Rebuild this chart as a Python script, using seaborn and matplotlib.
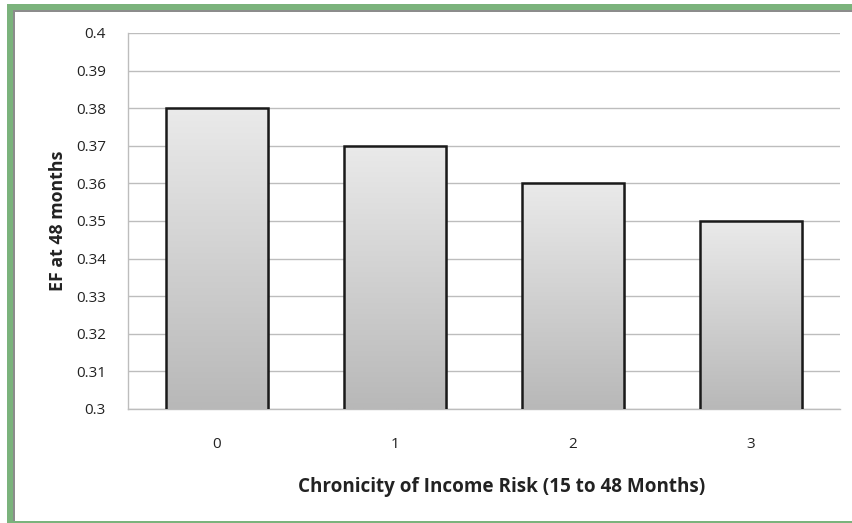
import numpy as np
import pandas as pd
import matplotlib
matplotlib.use("Agg")
import matplotlib.pyplot as plt
import seaborn as sns
from matplotlib.patches import Rectangle
from matplotlib.colors import LinearSegmentedColormap

categories = ["0", "1", "2", "3"]
ef_values = [0.38, 0.37, 0.36, 0.35]
y_ticks = [0.3, 0.31, 0.32, 0.33, 0.34, 0.35, 0.36, 0.37, 0.38, 0.39, 0.4]
x_label = "Chronicity of Income Risk (15 to 48 Months)"
y_label = "EF at 48 months"

sns.set_theme(style="white")
plt.rcParams["font.family"] = ["Open Sans", "DejaVu Sans"]

df = pd.DataFrame({"risk": categories, "ef": ef_values})

W, H = 852, 523
fig = plt.figure(figsize=(W / 100, H / 100), dpi=100)
ax = fig.add_axes([128 / W, 1 - 409 / H, (840 - 128) / W, (409 - 33) / H])

sns.barplot(data=df, x="risk", y="ef", ax=ax, color="#d0d0d0", width=0.57,
            edgecolor="#1a1a1a", linewidth=1.8, zorder=3)

ax.set_ylim(0.3, 0.4)
ax.set_xlim(-0.5, 3.5)
ax.set_yticks(y_ticks)
ax.set_yticklabels([f"{t:g}" for t in y_ticks], fontsize=11, color="#222222")
ax.tick_params(axis="x", labelsize=11, colors="#222222", pad=20, length=0)
ax.tick_params(axis="y", pad=16, length=0)

ax.grid(axis="y", color="#bdbdbd", linewidth=1.0, zorder=0)
ax.set_axisbelow(True)
for side in ("top", "right"):
    ax.spines[side].set_visible(False)
for side in ("left", "bottom"):
    ax.spines[side].set_color("#bdbdbd")
    ax.spines[side].set_linewidth(1.0)

ax.set_xlabel(x_label, fontsize=13.6, fontweight="bold", color="#222222")
ax.xaxis.set_label_coords(0.525, -0.181)
ax.xaxis.label.set_va("top")
ax.set_ylabel(y_label, fontsize=12.8, fontweight="bold", color="#222222", labelpad=6)

# vertical light-to-dark gradient inside each bar
grad_cmap = LinearSegmentedColormap.from_list("bargrad", ["#b8b8b8", "#eaeaea"])
grad = np.linspace(0, 1, 256).reshape(-1, 1)
for patch in list(ax.patches):
    x0, y0 = patch.get_x(), patch.get_y()
    w, h = patch.get_width(), patch.get_height()
    ybase = max(y0, 0.3)
    # soft shadow offset behind the bar
    shadow = Rectangle((x0 + 0.012, ybase), w, y0 + h - ybase - 0.0004,
                       facecolor="#000000", alpha=0.12, edgecolor="none", zorder=2)
    ax.add_patch(shadow)
    im = ax.imshow(grad, extent=[x0, x0 + w, ybase, y0 + h], origin="lower",
                   cmap=grad_cmap, aspect="auto", zorder=3.5)
    im.set_clip_path(patch)
    patch.set_facecolor("none")
    patch.set_zorder(4)
ax.set_xlim(-0.5, 3.5)
ax.set_ylim(0.3, 0.4)

# frame around the chart
green = "#7bb37c"
fig.patches.append(Rectangle((7 / W, 0), 6 / W, 1 - 4 / H, transform=fig.transFigure,
                             facecolor=green, edgecolor="none", zorder=10))
fig.patches.append(Rectangle((7 / W, 1 - 10 / H), 1, 6 / H, transform=fig.transFigure,
                             facecolor=green, edgecolor="none", zorder=10))
fig.patches.append(Rectangle((7 / W, 0), 1, 2 / H, transform=fig.transFigure,
                             facecolor=green, edgecolor="none", zorder=10))
fig.patches.append(Rectangle((13 / W, 2 / H), 1.5 / W, 1 - 12 / H, transform=fig.transFigure,
                             facecolor="#8c8c8c", edgecolor="none", zorder=10))
fig.patches.append(Rectangle((13 / W, 1 - 11.5 / H), 1, 1.5 / H, transform=fig.transFigure,
                             facecolor="#8c8c8c", edgecolor="none", zorder=10))

fig.savefig("out.png", dpi=100)
